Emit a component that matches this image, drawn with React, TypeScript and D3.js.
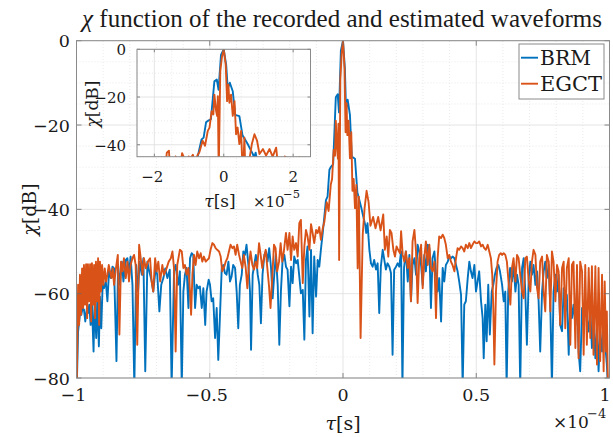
import React from 'react';
import * as d3 from 'd3';

// tau in microseconds, chi in dB
const brm: [number, number][] = [
  [-99.9,-82],[-99.4,-69],[-98.6,-64.2],[-98.2,-65],[-97.7,-63.4],[-97.2,-63.8],[-96.7,-66.6],[-96.1,-63.4],[-95.7,-64.6],[-95.2,-62.6],[-94.7,-67.4],[-94.2,-62.6],[-93.6,-73.7],[-93.2,-61.8],[-92.6,-70.5],[-92.2,-61.1],[-91.6,-72.5],[-91.2,-60.7],[-90.7,-68.2],[-90.2,-57.9],[-89.7,-58.7],[-89.0,-57.1],[-88.4,-61.8],[-87.8,-54.7],[-87.1,-56.3],[-86.5,-53.6],[-85.9,-54.0],[-85.0,-76],[-84.4,-53.2],[-83.7,-57.9],[-83.0,-52.4],[-82.4,-57.1],[-81.5,-52.0],[-80.9,-51.6],[-80.3,-55.5],[-79.7,-51.2],[-79.0,-57.9],[-78.3,-82],[-77.6,-53.2],[-76.9,-59.5],[-76.3,-52.4],[-75.5,-55.5],[-74.9,-51.6],[-74.2,-78.4],[-73.4,-52.4],[-72.7,-54.7],[-71.9,-56.7],[-71.2,-59.5],[-70.3,-54.0],[-69.7,-55.5],[-68.9,-64.2],[-68.2,-57.9],[-67.4,-56.3],[-66.7,-54.0],[-65.9,-56.3],[-65.0,-54.3],[-64.3,-82],[-63.4,-54.7],[-62.8,-53.2],[-61.9,-57.9],
  [-61.2,-54.7],[-60.5,-82],[-59.9,-59.5],[-59.3,-55.5],[-58.7,-53.9],[-58.0,-63.4],[-57.4,-51.6],[-56.8,-50.4],[-56.2,-50.8],[-55.5,-63.4],[-54.9,-57.9],[-54.3,-58.7],[-53.7,-58.3],[-53.0,-63.4],[-52.4,-58.7],[-51.7,-67.4],[-51.2,-59.5],[-50.4,-56.7],[-49.9,-57.9],[-49.3,-61.8],[-48.7,-61.1],[-48.0,-70.5],[-47.4,-63.4],[-46.8,-75.7],[-46.2,-65.8],[-45.5,-53.9],[-44.9,-53.2],[-44.3,-55.1],[-43.7,-55.5],[-43.0,-52.4],[-42.4,-57.1],[-41.8,-55.9],[-41.2,-53.2],[-40.5,-53.9],[-39.9,-59.5],[-39.3,-68.2],[-38.7,-57.9],[-38.0,-55.5],[-37.4,-50.0],[-36.8,-50.8],[-36.2,-48.4],[-35.5,-53.2],[-34.9,-59.5],[-34.5,-73.3],[-33.9,-55.5],[-33.3,-53.2],[-32.7,-50.8],[-32.0,-55.5],[-31.4,-57.9],[-30.8,-67.0],[-30.2,-55.5],[-29.5,-50.8],[-28.9,-50.0],[-28.3,-52.4],[-27.7,-49.2],[-27.0,-53.9],[-26.4,-61.1],[-25.8,-55.5],[-25.2,-50.8],[-24.5,-57.9],[-23.9,-72.1],[-23.3,-59.5],[-22.7,-52.4],[-22.0,-50.8],
  [-21.4,-53.6],[-20.8,-54.3],[-20.1,-63.0],[-19.5,-53.6],[-18.9,-57.5],[-18.3,-51.2],[-17.6,-52.8],[-17.0,-52.0],[-16.4,-55.9],[-15.8,-59.9],[-15.1,-59.1],[-14.5,-70.9],[-13.9,-52.0],[-13.3,-48.8],[-12.6,-65.4],[-12.0,-49.6],[-11.4,-69.4],[-10.8,-51.2],[-10.1,-60.7],[-9.5,-52.0],[-8.9,-53.6],[-8.3,-49.6],[-7.6,-45.6],[-7.0,-41.7],[-6.4,-37.8],[-5.8,-37.0],[-5.1,-30.6],[-4.6,-30.0],[-3.7,-29.3],[-2.7,-13.4],[-2.0,-12.7],[-1.5,-17.0],[-0.8,-2.4],[0,0],[0.7,-6.5],[1.15,-16.5],[1.75,-14.0],[2.6,-17.6],[3.3,-27.5],[4.5,-28.0],[5.4,-36.0],[6.9,-39.7],[7.6,-41.7],[8.4,-43.9],[8.7,-45.6],[9.2,-43.3],[9.9,-49.6],[10.5,-52.8],[11.1,-53.6],[11.7,-52.0],[12.4,-54.3],[13.0,-52.8],[13.6,-64.6],[14.2,-53.6],[14.9,-49.6],[15.5,-52.0],[16.1,-54.3],[16.7,-52.8],[17.4,-53.6],[18.0,-55.1],[18.6,-74.5],[19.2,-54.3],[19.9,-53.6],[20.5,-52.8],[21.1,-53.6],
  [21.8,-50.0],[22.3,-82],[22.9,-53.9],[23.6,-50.0],[24.3,-57.1],[24.9,-50.8],[25.5,-61.8],[26.1,-53.2],[26.8,-51.6],[27.4,-55.5],[28.0,-48.4],[28.6,-50.0],[29.3,-53.2],[29.9,-57.9],[30.5,-50.8],[31.1,-54.7],[31.8,-48.4],[32.4,-49.2],[33.0,-63.4],[33.6,-51.6],[34.3,-50.0],[34.9,-55.5],[35.5,-59.5],[36.1,-56.3],[36.8,-66.6],[37.4,-53.9],[38.0,-57.1],[38.6,-53.2],[39.3,-52.4],[39.9,-51.2],[40.5,-51.6],[41.1,-51.2],[41.8,-51.6],[42.4,-53.2],[43.0,-54.7],[43.6,-57.1],[44.3,-60.3],[44.9,-82],[45.5,-62.6],[46.1,-61.8],[46.8,-56.3],[47.4,-52.4],[48.0,-54.7],[48.6,-56.3],[49.3,-53.2],[49.9,-59.5],[50.5,-57.1],[51.1,-54.7],[51.8,-61.8],[52.4,-65.8],[52.8,-75.3],[53.4,-62.6],[53.9,-71.3],[54.5,-57.9],[55.1,-69.7],[55.8,-59.5],[56.4,-57.9],[57.0,-55.5],[57.6,-53.9],[58.3,-53.2],[58.9,-54.7],
  [59.7,-57.9],[60.3,-61.8],[60.9,-59.5],[61.4,-82],[62.0,-59.5],[62.7,-53.9],[63.4,-57.1],[64.0,-53.2],[64.7,-59.5],[65.3,-55.5],[65.9,-57.9],[66.5,-82],[67.2,-53.9],[67.8,-51.6],[68.4,-59.5],[69.0,-72.1],[69.7,-56.3],[70.3,-52.4],[70.9,-55.5],[71.5,-53.2],[72.2,-57.9],[72.8,-54.7],[73.4,-61.8],[74.0,-73.7],[74.7,-59.5],[75.3,-54.7],[75.9,-52.4],[76.5,-56.3],[77.2,-53.2],[77.8,-63.4],[78.4,-82],[79.0,-59.5],[79.7,-55.5],[80.3,-59.5],[80.9,-55.5],[81.5,-67.4],[82.2,-68.9],[82.8,-58.7],[83.4,-64.2],[84.0,-60.3],[84.7,-74.5],[85.3,-61.1],[85.9,-65.8],[86.5,-62.6],[87.2,-67.4],[87.8,-59.5],[88.4,-73.7],[89.0,-78.4],[89.7,-63.4],[90.3,-67.4],[90.9,-61.8],[91.5,-65.8],[92.2,-69.0],[92.8,-63.4],[93.4,-72.9],[94.0,-66.6],[94.7,-75.3],[95.3,-67.4],[95.9,-78.4],[96.5,-68.9],[97.2,-73.7],[97.8,-67.4],[98.4,-72.1],[99.0,-76.8],[99.4,-82],[99.8,-82],
];

const egct: [number, number][] = [
  [-99.9,-82],[-99.4,-57.9],[-99.0,-67.4],[-98.7,-55.5],[-98.3,-65.0],[-97.9,-54.0],[-97.5,-63.4],[-97.2,-53.2],[-96.8,-62.6],[-96.4,-53.0],[-96.0,-65.8],[-95.7,-53.0],[-95.3,-61.8],[-94.9,-53.0],[-94.5,-66.6],[-94.2,-52.8],[-93.8,-62.6],[-93.4,-53.2],[-93.0,-65.8],[-92.7,-52.4],[-92.3,-61.8],[-91.9,-51.6],[-91.5,-67.4],[-91.2,-52.4],[-90.8,-59.5],[-90.4,-53.2],[-89.9,-57.9],[-89.4,-54.0],[-88.9,-57.1],[-88.4,-55.5],[-87.9,-53.2],[-87.4,-54.7],[-86.9,-56.3],[-86.4,-54.0],[-85.9,-57.9],[-85.2,-54.0],[-84.5,-50.8],[-83.9,-69.7],[-83.3,-52.4],[-82.7,-54.7],[-82.2,-51.6],[-81.5,-56.3],[-80.9,-52.4],[-80.3,-57.1],[-79.7,-53.2],[-79.0,-51.6],[-78.4,-50.8],[-77.8,-53.2],[-77.2,-72.1],[-76.5,-48.4],[-75.9,-51.6],[-75.2,-55.5],[-74.7,-51.6],[-74.0,-54.0],[-73.2,-52.4],[-72.4,-51.6],[-71.8,-57.1],[-71.2,-59.5],[-70.5,-51.6],[-69.9,-54.7],[-69.3,-52.4],[-68.6,-57.1],[-67.8,-53.2],[-67.2,-55.5],[-66.2,-54.0],[-65.4,-52.4],[-64.6,-51.6],[-64.0,-50.0],[-63.4,-54.0],[-62.8,-73.7],[-62.2,-53.2],
  [-61.2,-49.6],[-60.5,-50.0],[-59.9,-53.9],[-59.3,-53.2],[-58.7,-55.5],[-58.0,-53.9],[-57.4,-59.5],[-57.0,-65.0],[-56.5,-55.5],[-55.9,-50.8],[-55.3,-53.2],[-54.7,-50.0],[-54.0,-51.6],[-53.4,-50.4],[-52.8,-52.4],[-52.2,-51.2],[-51.5,-52.4],[-50.9,-52.0],[-50.3,-51.6],[-49.7,-49.6],[-49.0,-48.0],[-48.4,-48.4],[-47.8,-49.2],[-47.2,-49.6],[-46.5,-50.0],[-45.9,-51.2],[-45.3,-54.7],[-44.7,-53.9],[-44.0,-52.4],[-43.4,-51.6],[-42.8,-50.0],[-42.2,-48.4],[-41.5,-49.2],[-40.9,-48.8],[-40.3,-50.8],[-39.7,-48.4],[-39.0,-50.8],[-38.4,-52.4],[-37.8,-53.9],[-37.2,-50.8],[-36.5,-53.9],[-35.9,-58.7],[-35.3,-53.2],[-34.7,-50.0],[-34.0,-53.2],[-33.4,-54.3],[-32.8,-52.4],[-32.2,-53.9],[-31.5,-48.0],[-30.9,-50.8],[-30.3,-53.9],[-29.7,-51.6],[-29.0,-49.6],[-28.4,-53.9],[-27.8,-57.9],[-27.2,-63.4],[-26.5,-55.5],[-25.9,-48.4],[-25.3,-49.2],[-24.7,-54.7],[-24.0,-52.4],[-23.4,-48.0],[-22.8,-52.4],[-22.2,-50.0],
  [-21.4,-45.6],[-20.8,-49.6],[-20.1,-45.6],[-19.5,-52.0],[-18.9,-46.4],[-18.3,-49.6],[-17.6,-48.0],[-17.0,-51.2],[-16.4,-43.3],[-15.8,-42.5],[-15.1,-57.5],[-14.5,-48.8],[-13.9,-44.9],[-13.3,-46.4],[-12.6,-49.6],[-12.0,-43.5],[-11.4,-45.6],[-10.8,-48.0],[-10.1,-44.9],[-9.5,-45.6],[-8.9,-44.2],[-8.3,-47.2],[-7.6,-44.5],[-7.0,-43.0],[-6.1,-38.3],[-5.4,-40.4],[-4.6,-34.2],[-4.1,-32.8],[-3.5,-25.9],[-3.0,-27.3],[-2.7,-19.0],[-2.2,-25.9],[-1.9,-28.0],[-1.7,-19.7],[-1.45,-52],[-1.0,-9.3],[-0.5,-3.0],[0,0],[0.57,-6.5],[0.96,-21.7],[1.34,-14.8],[1.63,-22.4],[2.1,-19.0],[2.6,-27.9],[3.1,-21.7],[3.55,-35.6],[4.0,-32.8],[4.5,-39.7],[5.0,-34.2],[5.5,-54.0],[5.95,-37.0],[6.6,-70.5],[7.4,-46.0],[8.1,-39.7],[8.85,-35.6],[9.6,-38.3],[10.3,-43.9],[11.3,-41.8],[12.2,-44.5],[13.2,-41.8],[14.1,-45.0],[15.1,-41.2],[15.7,-49.6],[16.4,-46.4],[17.0,-51.2],[17.6,-44.9],[18.2,-45.6],[18.9,-49.6],[19.5,-51.2],[20.1,-48.8],[20.7,-49.6],[21.4,-50.4],
  [21.8,-45.2],[22.4,-50.8],[23.0,-52.4],[23.6,-50.0],[24.3,-53.9],[24.9,-51.6],[25.5,-61.8],[26.1,-47.6],[26.8,-44.9],[27.4,-50.0],[28.0,-62.2],[28.6,-51.6],[29.3,-48.4],[29.9,-58.7],[30.5,-51.6],[31.1,-47.6],[31.8,-53.2],[32.4,-48.4],[33.0,-53.9],[33.6,-54.7],[34.3,-52.4],[34.9,-65.8],[35.5,-51.6],[36.1,-46.4],[36.8,-46.8],[37.4,-46.0],[38.0,-46.8],[38.6,-48.4],[39.3,-51.6],[39.9,-50.8],[40.5,-52.4],[41.1,-53.2],[41.8,-54.7],[42.4,-51.6],[43.0,-49.2],[43.6,-49.6],[44.3,-48.8],[44.9,-49.2],[45.5,-50.0],[46.1,-48.4],[46.8,-49.2],[47.4,-48.0],[48.0,-49.2],[48.6,-48.4],[49.3,-47.6],[49.9,-48.0],[50.5,-48.0],[51.1,-47.6],[51.8,-48.8],[52.4,-48.4],[53.0,-49.2],[53.6,-49.6],[54.3,-48.4],[54.9,-50.0],[55.5,-51.6],[56.0,-55.5],[56.4,-63.4],[56.8,-76.8],[57.4,-59.5],[58.0,-52.4],[58.6,-50.8],[59.2,-50.4],
  [59.7,-50.8],[60.3,-50.4],[60.9,-50.8],[61.5,-52.4],[62.2,-57.9],[62.8,-62.6],[63.4,-53.9],[64.0,-51.6],[64.7,-57.1],[65.3,-50.8],[65.9,-51.6],[66.5,-55.5],[67.2,-59.5],[67.8,-61.1],[68.4,-51.6],[69.0,-51.2],[69.7,-57.1],[70.3,-59.5],[70.9,-52.4],[71.5,-49.6],[72.2,-50.8],[72.8,-58.7],[73.4,-61.1],[74.0,-52.4],[74.7,-51.2],[75.3,-59.5],[75.9,-64.2],[76.5,-50.8],[77.2,-52.4],[77.8,-64.2],[78.4,-50.0],[79.0,-52.4],[79.7,-61.8],[80.3,-53.2],[80.9,-54.7],[81.5,-67.4],[82.2,-53.9],[82.8,-52.4],[83.4,-68.2],[84.0,-53.9],[84.7,-51.6],[85.3,-72.1],[85.9,-53.2],[86.5,-52.4],[87.2,-72.9],[87.8,-53.2],[88.4,-75.3],[89.0,-52.4],[89.7,-54.7],[90.3,-74.5],[90.9,-53.2],[91.5,-72.1],[92.2,-53.9],[92.8,-70.5],[93.4,-53.5],[94.0,-74.5],[94.7,-53.5],[95.3,-76.8],[95.9,-53.9],[96.5,-76.0],[97.2,-55.5],[97.8,-78.4],[98.2,-57.1],[98.7,-73.7],[99.0,-64.2],[99.4,-82],
];

const seriesNames = ['BRM', 'EGCT'];
const seriesColors = ['#0072BD', '#D95319'];
const mainXTicks = [-1, -0.5, 0, 0.5, 1]; // x 1e-4 s
const mainYTicks = [-80, -60, -40, -20, 0];
const insetXTicks = [-2, 0, 2]; // x 1e-5 s
const insetYTicks = [-40, -20, 0];
const titleText = 'function of the recorded and estimated waveforms';

const FONT = 'DejaVu Serif, serif';
const TITLE_FONT = 'Liberation Serif, serif';
const GRID = '#dedede';
const MINOR = '#e4e4e4';
const FRAME = '#8a8a8a';
const TICK = '#6a6a6a';
const TXT = '#1a1a1a';
const fmt = (v: number) => (v < 0 ? '\u2212' : '') + String(Math.abs(v));

function range(a: number, b: number, s: number) {
  const out: number[] = [];
  for (let v = a; v <= b + 1e-9; v += s) out.push(+v.toFixed(6));
  return out;
}

type AxProps = {
  x: d3.ScaleLinear<number, number>;
  y: d3.ScaleLinear<number, number>;
  xMajor: number[]; yMajor: number[]; xMinor: number[]; yMinor: number[];
  tickLen: number;
};

function Grid({ x, y, xMajor, yMajor, xMinor, yMinor }: AxProps) {
  const [x0, x1] = x.range();
  const [y0, y1] = y.range();
  return (
    <g>
      {xMinor.filter(v => !xMajor.some(m => Math.abs(m - v) < 1e-9)).map((v, i) => (
        <line key={'xm' + i} x1={x(v)} x2={x(v)} y1={y0} y2={y1} stroke={MINOR} strokeWidth={0.8} strokeDasharray="1,2" />
      ))}
      {yMinor.filter(v => !yMajor.some(m => Math.abs(m - v) < 1e-9)).map((v, i) => (
        <line key={'ym' + i} x1={x0} x2={x1} y1={y(v)} y2={y(v)} stroke={MINOR} strokeWidth={0.8} strokeDasharray="1,2" />
      ))}
      {xMajor.map((v, i) => (
        <line key={'xM' + i} x1={x(v)} x2={x(v)} y1={y0} y2={y1} stroke={GRID} strokeWidth={0.8} />
      ))}
      {yMajor.map((v, i) => (
        <line key={'yM' + i} x1={x0} x2={x1} y1={y(v)} y2={y(v)} stroke={GRID} strokeWidth={0.8} />
      ))}
    </g>
  );
}

function Frame({ x, y, xMajor, yMajor, tickLen }: AxProps) {
  const [x0, x1] = x.range();
  const [y0, y1] = y.range();
  return (
    <g>
      {xMajor.map((v, i) => (
        <g key={'xt' + i}>
          <line x1={x(v)} x2={x(v)} y1={y0} y2={y0 - tickLen} stroke={TICK} strokeWidth={0.8} />
          <line x1={x(v)} x2={x(v)} y1={y1} y2={y1 + tickLen} stroke={TICK} strokeWidth={0.8} />
        </g>
      ))}
      {yMajor.map((v, i) => (
        <g key={'yt' + i}>
          <line x1={x0} x2={x0 + tickLen} y1={y(v)} y2={y(v)} stroke={TICK} strokeWidth={0.8} />
          <line x1={x1} x2={x1 - tickLen} y1={y(v)} y2={y(v)} stroke={TICK} strokeWidth={0.8} />
        </g>
      ))}
      <rect x={x0} y={y1} width={x1 - x0} height={y0 - y1} fill="none" stroke={FRAME} strokeWidth={1} />
    </g>
  );
}

export default function App() {
  // main axes (x in seconds)
  const mx = d3.scaleLinear().domain([-1e-4, 1e-4]).range([76.5, 609.5]);
  const my = d3.scaleLinear().domain([-80, 0]).range([378, 40.7]);
  // inset axes
  const ix = d3.scaleLinear().domain([-2.5e-5, 2.5e-5]).range([137, 310.5]);
  const iy = d3.scaleLinear().domain([-45, 0]).range([156.7, 49.3]);

  const mainLine = d3.line<[number, number]>().x(d => mx(d[0] * 1e-6)).y(d => my(d[1]));
  const insetLine = d3.line<[number, number]>().x(d => ix(d[0] * 1e-6)).y(d => iy(d[1]));
  const series = [brm, egct];

  const mainAx: AxProps = {
    x: mx, y: my,
    xMajor: mainXTicks.map(v => v * 1e-4), yMajor: mainYTicks,
    xMinor: range(-10, 10, 1).map(v => v * 1e-5), yMinor: range(-80, 0, 5),
    tickLen: 5,
  };
  const insetAx: AxProps = {
    x: ix, y: iy,
    xMajor: insetXTicks.map(v => v * 1e-5), yMajor: insetYTicks,
    xMinor: range(-2.5, 2.5, 0.5).map(v => v * 1e-5), yMinor: range(-45, 0, 5),
    tickLen: 3,
  };

  const [ix0, ix1] = ix.range();
  const [iy0, iy1] = iy.range();
  const [mx0, mx1] = mx.range();
  const [my0, my1] = my.range();

  return (
    <svg width={613} height={437} viewBox="0 0 613 437" style={{ position: 'absolute', left: 0, top: 0, background: '#fff' }} fontFamily={FONT} fill={TXT}>
      <defs>
        <clipPath id="clipMain"><rect x={mx0} y={my1} width={mx1 - mx0} height={my0 - my1} /></clipPath>
        <clipPath id="clipInset"><rect x={ix0} y={iy1} width={ix1 - ix0} height={iy0 - iy1} /></clipPath>
      </defs>
      <rect x={0} y={0} width={613} height={437} fill="#fff" />

      {/* title */}
      <text x={342} y={27} fontSize={25} fontFamily={TITLE_FONT} textAnchor="middle">
        <tspan fontStyle="italic">χ</tspan> {titleText}
      </text>

      {/* main axes */}
      <Grid {...mainAx} />
      <g clipPath="url(#clipMain)">
        {series.map((s, i) => (
          <path key={i} d={mainLine(s) || ''} fill="none" stroke={seriesColors[i]} strokeWidth={1.9} strokeLinejoin="round" />
        ))}
      </g>
      <Frame {...mainAx} />
      {mainYTicks.map((v, i) => (
        <text key={'myl' + i} x={70} y={my(v) + 6.5} fontSize={17.5} textAnchor="end">{fmt(v)}</text>
      ))}
      {mainXTicks.map((v, i) => (
        <text key={'mxl' + i} x={Math.min(mx(v * 1e-4) - (v < 0 ? 3 : 0), 605)} y={401} fontSize={17.5} textAnchor="middle">{fmt(v)}</text>
      ))}
      <text x={343} y={430} fontSize={19} textAnchor="middle">
        <tspan fontStyle="italic">τ</tspan>[s]
      </text>
      <text x={553} y={428} fontSize={17}>×10</text>
      <text x={587} y={418} fontSize={13}>{fmt(-4)}</text>
      <text transform={`translate(36,209.5) rotate(-90)`} fontSize={19} textAnchor="middle">
        <tspan fontStyle="italic">χ</tspan>[dB]
      </text>

      {/* inset axes */}
      <rect x={ix0} y={iy1} width={ix1 - ix0} height={iy0 - iy1} fill="#fff" />
      <Grid {...insetAx} />
      <g clipPath="url(#clipInset)">
        {series.map((s, i) => (
          <path key={i} d={insetLine(s) || ''} fill="none" stroke={seriesColors[i]} strokeWidth={1.9} strokeLinejoin="round" />
        ))}
      </g>
      <Frame {...insetAx} />
      {insetYTicks.map((v, i) => (
        <text key={'iyl' + i} x={126} y={iy(v) + 6} fontSize={15} textAnchor="end">{fmt(v)}</text>
      ))}
      {insetXTicks.map((v, i) => (
        <text key={'ixl' + i} x={ix(v * 1e-5) - (v < 0 ? 2 : 0)} y={182} fontSize={15} textAnchor="middle">{fmt(v)}</text>
      ))}
      <text x={220} y={207} fontSize={17} textAnchor="middle">
        <tspan fontStyle="italic">τ</tspan>[s]
      </text>
      <text x={253} y={207} fontSize={15}>×10</text>
      <text x={283} y={198} fontSize={11.5}>{fmt(-5)}</text>
      <text transform={`translate(98,104) rotate(-90)`} fontSize={17} textAnchor="middle">
        <tspan fontStyle="italic">χ</tspan>[dB]
      </text>

      {/* legend */}
      <rect x={519} y={44} width={85} height={55} fill="#fff" stroke={FRAME} strokeWidth={1} />
      {seriesNames.map((n, i) => (
        <g key={n}>
          <line x1={521} x2={538} y1={57.7 + i * 26} y2={57.7 + i * 26} stroke={seriesColors[i]} strokeWidth={1.9} />
          <text x={540} y={64.5 + i * 26} fontSize={19.5} textLength={i === 0 ? 51 : 62} lengthAdjust="spacingAndGlyphs">{n}</text>
        </g>
      ))}
    </svg>
  );
}
